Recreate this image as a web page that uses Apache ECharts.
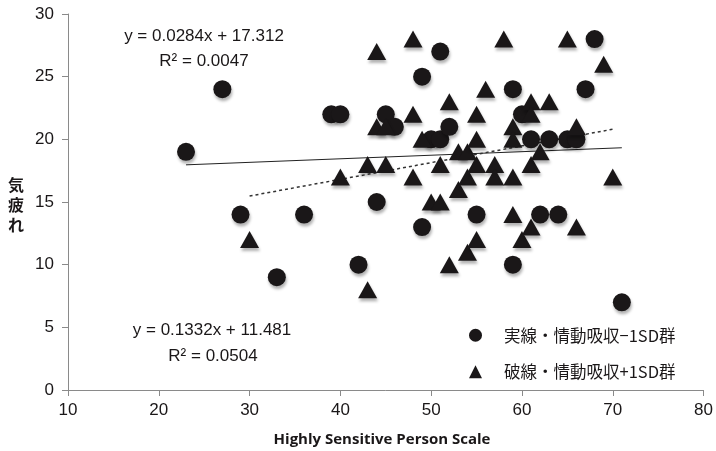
<!DOCTYPE html>
<html>
<head>
<meta charset="utf-8">
<script src="https://cdn.jsdelivr.net/npm/echarts@6/dist/echarts.min.js"></script>
<style>
html,body{margin:0;padding:0;background:#fff;}
#chart{width:716px;height:451px;}
</style>
</head>
<body>
<div id="chart"></div>
<script>
// ---- data ----
var seriesNames = ['実線・情動吸収−1SD群', '破線・情動吸収+1SD群'];
var lowGroup = [
  [23,19],[27,24],[29,14],[33,9],[36,14],[39,22],[40,22],[42,10],[44,15],[45,22],
  [46,21],[49,25],[49,13],[50,20],[51,20],[51,27],[52,21],[55,14],[59,24],[59,10],
  [60,22],[61,20],[63,20],[62,14],[64,14],[65,20],[66,20],[67,24],[68,28],[71,7]
];
var highGroup = [
  [30,12],[40,17],[43,18],[43,8],[44,27],[44,21],[45,21],[45,18],[48,28],[48,22],
  [48,17],[49,20],[50,15],[51,15],[51,18],[52,23],[52,10],[53,19],[53,16],[54,19],
  [54,17],[54,11],[55,22],[55,20],[55,18],[55,12],[56,24],[57,18],[57,17],[58,28],
  [59,21],[59,20],[59,17],[59,14],[60,12],[61,23],[61,22],[61,18],[61,13],[62,19],
  [63,23],[65,28],[66,21],[66,13],[69,26],[70,17]
];
// trend lines (from the printed equations) and their x extents
var trendLow = {slope: 0.0284, intercept: 17.312, xFrom: 23, xTo: 71};
var trendHigh = {slope: 0.1332, intercept: 11.481, xFrom: 30, xTo: 70};
var eqLowText = ['y = 0.0284x + 17.312', 'R² = 0.0047'];
var eqHighText = ['y = 0.1332x + 11.481', 'R² = 0.0504'];
var xTicks = {min: 10, max: 80, interval: 10};
var yTicks = {min: 0, max: 30, interval: 5};
var xName = 'Highly Sensitive Person Scale';
var yName = '気疲れ';

function trendPoints(t) {
  return [[t.xFrom, t.slope * t.xFrom + t.intercept], [t.xTo, t.slope * t.xTo + t.intercept]];
}

var ink = '#1a1718';
var axisGray = '#8a8a8a';
var labelFont = '"Liberation Sans", Arial, sans-serif';
var cjkFont = '"Noto Sans CJK JP", sans-serif';
var shadow = {shadowBlur: 3, shadowOffsetX: 1, shadowOffsetY: 3, shadowColor: 'rgba(0,0,0,0.3)'};

var chart = echarts.init(document.getElementById('chart'), null, {renderer: 'canvas'});
chart.setOption({
  animation: false,
  backgroundColor: '#fff',
  grid: {left: 68, right: 12, top: 14, bottom: 61, containLabel: false},
  xAxis: {
    type: 'value', min: xTicks.min, max: xTicks.max, interval: xTicks.interval,
    axisLine: {show: true, onZero: false, lineStyle: {color: axisGray, width: 1}},
    axisTick: {show: true, length: 6, lineStyle: {color: axisGray}},
    axisLabel: {color: ink, fontSize: 17, fontFamily: labelFont, margin: 12},
    splitLine: {show: false}
  },
  yAxis: {
    type: 'value', min: yTicks.min, max: yTicks.max, interval: yTicks.interval,
    axisLine: {show: true, onZero: false, lineStyle: {color: axisGray, width: 1}},
    axisTick: {show: true, length: 6, lineStyle: {color: axisGray}},
    axisLabel: {color: ink, fontSize: 17, fontFamily: labelFont, margin: 14},
    splitLine: {show: false}
  },
  legend: {
    orient: 'vertical', left: 464, top: 322, itemGap: 20,
    itemWidth: 13, itemHeight: 13,
    textStyle: {color: ink, fontSize: 16.5, fontFamily: cjkFont, padding: [0, 0, 0, 17]},
    itemStyle: {shadowBlur: 0, shadowOffsetX: 0, shadowOffsetY: 0, shadowColor: 'transparent'},
    data: [{name: seriesNames[0], icon: 'circle'}, {name: seriesNames[1], icon: 'triangle'}]
  },
  series: [
    {
      type: 'line', data: trendPoints(trendLow), symbol: 'none', silent: true, z: 1,
      lineStyle: {color: '#222', width: 1, type: 'solid'}
    },
    {
      type: 'line', data: trendPoints(trendHigh), symbol: 'none', silent: true, z: 1,
      lineStyle: {color: '#333', width: 1.5, type: [3, 3]}
    },
    {
      name: seriesNames[0], type: 'scatter', data: lowGroup, symbol: 'circle', symbolSize: 18, z: 3,
      itemStyle: Object.assign({color: ink, opacity: 1}, shadow)
    },
    {
      name: seriesNames[1], type: 'scatter', data: highGroup, symbol: 'triangle', symbolSize: [19, 17], z: 3,
      itemStyle: Object.assign({color: ink, opacity: 1}, shadow)
    }
  ],
  graphic: [
    {type: 'text', x: 204, y: 36, style: {text: eqLowText[0], fill: ink, font: '17px ' + labelFont, align: 'center', verticalAlign: 'middle'}},
    {type: 'text', x: 204, y: 61, style: {text: eqLowText[1], fill: ink, font: '17px ' + labelFont, align: 'center', verticalAlign: 'middle'}},
    {type: 'text', x: 212, y: 330, style: {text: eqHighText[0], fill: ink, font: '17px ' + labelFont, align: 'center', verticalAlign: 'middle'}},
    {type: 'text', x: 213, y: 356, style: {text: eqHighText[1], fill: ink, font: '17px ' + labelFont, align: 'center', verticalAlign: 'middle'}},
    {type: 'text', x: 382, y: 440, style: {text: xName, fill: ink, font: 'bold 15px "Open Sans", sans-serif', align: 'center', verticalAlign: 'middle'}},
    {type: 'text', x: 16, y: 205, style: {text: yName.split('').join('\n'), fill: ink, font: 'bold 16px ' + cjkFont, lineHeight: 20, align: 'center', verticalAlign: 'middle'}}
  ]
});
</script>
</body>
</html>
